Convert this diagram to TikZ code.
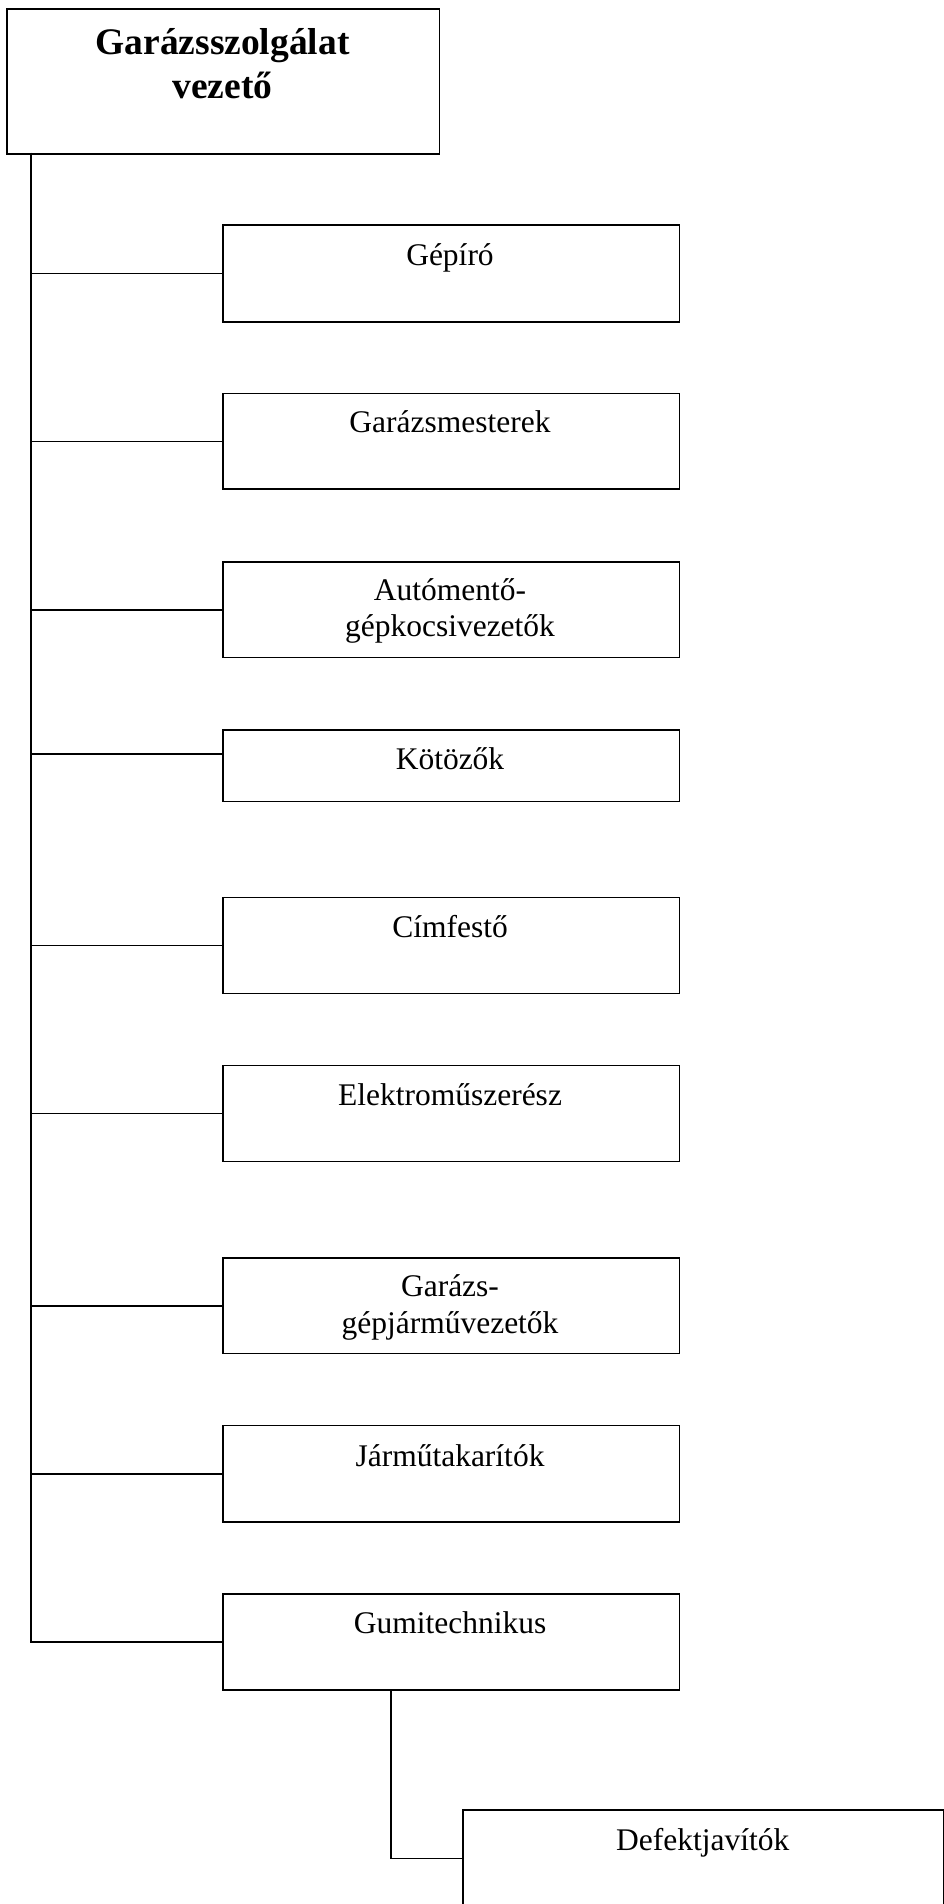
\documentclass[tikz,border=0pt]{standalone}
\usepackage{fontspec}
\setmainfont{Liberation Serif}
\begin{document}
\begin{tikzpicture}[x=1pt,y=-1pt,
  box/.style={draw=black,line width=1.7pt,anchor=north west,inner sep=0pt},
  lbl/.style={anchor=base,inner sep=0pt,font=\fontsize{31.5}{36.7}\selectfont,align=center},
  ttl/.style={anchor=base,inner sep=0pt,font=\fontsize{37.5}{44}\selectfont\bfseries,align=center},
  conn/.style={draw=black,line width=1.7pt}]
\useasboundingbox (0,0) rectangle (944,1904);
% top box
\node[box,minimum width=432.7pt,minimum height=144.5pt] (top) at (6,8.3) {};
\node[ttl] (ttop) at (222.5,98) {Garázsszolgálat\\vezető};
% child boxes
\node[box,minimum width=456.5pt,minimum height=97pt] (b1) at (222,224) {};
\node[box,minimum width=456.5pt,minimum height=95.6pt] (b2) at (222,392.7) {};
\node[box,minimum width=456.5pt,minimum height=95.7pt] (b3) at (222,561) {};
\node[box,minimum width=456.5pt,minimum height=71.7pt] (b4) at (222,729) {};
\node[box,minimum width=456.5pt,minimum height=96pt] (b5) at (222,896.7) {};
\node[box,minimum width=456.5pt,minimum height=96pt] (b6) at (222,1064.7) {};
\node[box,minimum width=456.5pt,minimum height=95.7pt] (b7) at (222,1257) {};
\node[box,minimum width=456.5pt,minimum height=96.3pt] (b8) at (222,1424.7) {};
\node[box,minimum width=456.5pt,minimum height=96pt] (b9) at (222,1593) {};
\node[box,minimum width=480.6pt,minimum height=97pt] (b10) at (462.4,1809) {};
% labels
\node[lbl] (t1) at (450,265) {Gépíró};
\node[lbl] (t2) at (450,432.7) {Garázsmesterek};
\node[lbl] (t3) at (450,636.7) {Autómentő-\\gépkocsivezetők};
\node[lbl] (t4) at (450,769) {Kötözők};
\node[lbl] (t5) at (450,937.7) {Címfestő};
\node[lbl] (t6) at (450,1105.7) {Elektroműszerész};
\node[lbl] (t7) at (450,1333.3) {Garázs-\\gépjárművezetők};
\node[lbl] (t8) at (450,1466) {Járműtakarítók};
\node[lbl] (t9) at (450,1633) {Gumitechnikus};
\node[lbl] (t10) at (702.7,1850) {Defektjavítók};
% connectors
\coordinate (trunktop) at (30.7,152.7);
\coordinate (k4) at (30.7,754);
\coordinate (g1) at (390.7,1689);
\draw[conn] (trunktop) |- (b9.west);
\draw[conn] (b1.west) -- (trunktop |- b1.west);
\draw[conn] (b2.west) -- (trunktop |- b2.west);
\draw[conn] (b3.west) -- (trunktop |- b3.west);
\draw[conn] (k4) -- (k4 -| b4.west);
\draw[conn] (b5.west) -- (trunktop |- b5.west);
\draw[conn] (b6.west) -- (trunktop |- b6.west);
\draw[conn] (b7.west) -- (trunktop |- b7.west);
\draw[conn] (b8.west) -- (trunktop |- b8.west);
\draw[conn] (g1) |- (b10.west);
\end{tikzpicture}
\end{document}
